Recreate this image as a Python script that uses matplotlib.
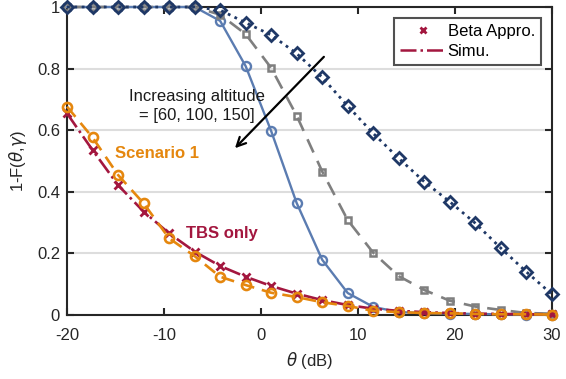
import numpy as np
import matplotlib
matplotlib.use("Agg")
import matplotlib.pyplot as plt
from matplotlib.lines import Line2D

plt.rcParams['font.family'] = ['Liberation Sans', 'DejaVu Sans']
plt.rcParams['mathtext.fontset'] = 'dejavusans'

theta = [-20.0, -17.37, -14.74, -12.11, -9.47, -6.84, -4.21, -1.58, 1.05, 3.68,
         6.32, 8.95, 11.58, 14.21, 16.84, 19.47, 22.11, 24.74, 27.37, 30.0]

# UAV altitude 60
alt60 = [1.0, 1.0, 1.0, 1.0, 1.0, 1.0, 0.955, 0.808, 0.597, 0.363,
         0.178, 0.070, 0.025, 0.008, 0.005, 0.003, 0.002, 0.001, 0.0, 0.0]
# UAV altitude 100
alt100 = [1.0, 1.0, 1.0, 1.0, 1.0, 1.0, 0.975, 0.912, 0.802, 0.647,
          0.465, 0.307, 0.201, 0.125, 0.080, 0.045, 0.026, 0.015, 0.005, 0.003]
# UAV altitude 150
alt150 = [1.0, 1.0, 1.0, 1.0, 1.0, 1.0, 0.99, 0.949, 0.909, 0.849,
          0.771, 0.678, 0.589, 0.508, 0.432, 0.367, 0.297, 0.216, 0.139, 0.066]
# Scenario 1
scen1 = [0.676, 0.576, 0.454, 0.362, 0.248, 0.19, 0.123, 0.096, 0.071, 0.057,
         0.040, 0.028, 0.012, 0.008, 0.005, 0.004, 0.002, 0.001, 0.001, 0.0]
# TBS only
tbs = [0.654, 0.535, 0.421, 0.335, 0.264, 0.205, 0.158, 0.123, 0.093, 0.068,
       0.047, 0.031, 0.019, 0.012, 0.008, 0.005, 0.003, 0.002, 0.001, 0.001]

xticks = [-20, -10, 0, 10, 20, 30]
yticks = [0, 0.2, 0.4, 0.6, 0.8, 1]
yticklabels = ['0', '0.2', '0.4', '0.6', '0.8', '1']

c_blue = '#5b7cb1'
c_gray = '#7f7f7f'
c_navy = '#1f3866'
c_orange = '#e5870e'
c_red = '#a3173f'
c_axis = '#262626'
fs = 12

fig = plt.figure(figsize=(5.66, 3.79), dpi=100)
ax = fig.add_axes([0.1184, 0.170, 0.8566, 0.8115])

ax.plot(theta, alt60, '-', color=c_blue, lw=1.7, marker='o', ms=6.5,
        mfc='none', mec=c_blue, mew=1.7, clip_on=False, zorder=3)
ax.plot(theta, alt100, '--', color=c_gray, lw=1.9, dashes=(5.5, 3.5), marker='s', ms=5,
        mfc='none', mec=c_gray, mew=1.8, clip_on=False, zorder=3)
ax.plot(theta, alt150, ':', color=c_navy, lw=2.0, marker='D', ms=6,
        mfc='none', mec=c_navy, mew=2.0, clip_on=False, zorder=3)
ax.plot(theta, tbs, '-.', color=c_red, lw=1.9, marker='x', ms=5.5,
        mec=c_red, mew=2.0, clip_on=False, zorder=3)
ax.plot(theta, scen1, '--', color=c_orange, lw=1.9, dashes=(5, 3), marker='o', ms=6.5,
        mfc='none', mec=c_orange, mew=1.9, clip_on=False, zorder=4)

ax.set_xlim(-20, 30)
ax.set_ylim(0, 1)
ax.set_xticks(xticks)
ax.set_xticklabels([str(v) for v in xticks])
ax.set_yticks(yticks)
ax.set_yticklabels(yticklabels)
ax.tick_params(direction='in', top=True, right=True, length=5, width=1.5,
               labelsize=fs, colors=c_axis)
ax.tick_params(axis='x', pad=10)
ax.tick_params(axis='y', pad=5)
ax.grid(axis='y', color='#dddddd', lw=1.5)
ax.set_axisbelow(True)
for s in ax.spines.values():
    s.set_linewidth(1.5)
    s.set_color(c_axis)

ax.set_xlabel(r'$\theta$ (dB)', fontsize=fs, color=c_axis, labelpad=5)
ax.set_ylabel(r'1-F($\theta$,$\gamma$)', fontsize=fs, color=c_axis, labelpad=6)

# legend entries describe the marker/line convention
handles = [Line2D([], [], ls='none', marker='x', color=c_red, ms=5, mew=2),
           Line2D([], [], ls='-.', color=c_red, lw=1.8)]
leg = ax.legend(handles, ['Beta Appro.', 'Simu.'], loc='upper right',
                bbox_to_anchor=(0.977, 0.964), fontsize=fs, frameon=True,
                fancybox=False, edgecolor=c_axis, handlelength=2.7,
                handletextpad=0.15, borderpad=0.35, labelspacing=0.3,
                borderaxespad=0)
leg.get_frame().set_linewidth(1.5)

ax.annotate('', xy=(-2.68, 0.541), xytext=(6.49, 0.838),
            arrowprops=dict(arrowstyle='->', color='black', lw=1.6,
                            mutation_scale=16, shrinkA=0, shrinkB=0))
ax.text(-6.6, 0.678, 'Increasing altitude\n= [60, 100, 150]', ha='center',
        va='center', fontsize=fs, color='#1a1a1a', linespacing=1.3)
ax.text(-15.05, 0.525, 'Scenario 1', color=c_orange, fontsize=fs,
        fontweight='bold', ha='left', va='center')
ax.text(-7.73, 0.265, 'TBS only', color=c_red, fontsize=fs,
        fontweight='bold', ha='left', va='center')

fig.savefig('out.png', dpi=100)
